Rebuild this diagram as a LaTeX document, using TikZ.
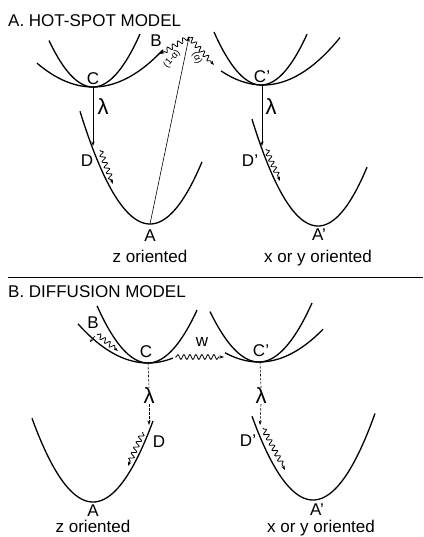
\documentclass[tikz,border=0pt]{standalone}
\usepackage{fontspec}
\setmainfont{Liberation Sans}
\usetikzlibrary{arrows.meta,decorations.pathmorphing}
\tikzset{
  curve/.style={line width=1.3pt},
  thinline/.style={line width=0.6pt},
  tip/.style={-{Stealth[length=4.5pt,width=3.2pt]}},
  wavy/.style={line width=0.8pt, tip, decorate, decoration={snake, amplitude=2.4pt, segment length=6pt, pre length=1pt, post length=4pt}},
  dashy/.style={thinline, dash pattern=on 2.5pt off 1.5pt},
  lbl/.style={font=\fontsize{17}{18}\selectfont, inner sep=0pt},
  lam/.style={font=\fontsize{22}{24}\selectfont, inner sep=0pt},
  small/.style={font=\fontsize{9.5}{10}\selectfont, inner sep=0pt},
}
\begin{document}
\begin{tikzpicture}[x=1pt,y=-1pt]
\useasboundingbox (0,0) rectangle (423,537);

% ---------------- Panel A ----------------
\node[lbl, anchor=base west] (titleA) at (8,27) {A. HOT-SPOT MODEL};

% upper left pair
\draw[curve] plot[domain=49:140, samples=50] (\x, {87-0.024*(\x-93)^2});
\draw[curve] plot[domain=37:163, samples=50] (\x, {87-0.0076*(\x-93)^2});
\coordinate (Cv) at (93,87);
\node[lbl] (Cl) at (93,79) {C};
% lower left
\draw[curve] plot[domain=80:202, samples=60] (\x, {224-0.023*(\x-150)^2});
\coordinate (Dv) at (93,146);
\coordinate (Av) at (150,224);
\node[lbl] (Dl) at (87,161) {D};
\node[lbl] (Al) at (150,236) {A};
\node[lbl, anchor=base] (zA) at (150,262) {z oriented};
\draw[thinline, tip] (Cv) -- (Dv);
\node[lam] (lamA) at (103,107) {λ};
\coordinate (Dw1) at (100,150);
\coordinate (Dw2) at (113,184);
\draw[wavy] (Dw1) -- (Dw2);

% hot spot
\coordinate (P) at (189,37);
\coordinate (Bt) at (160,54);
\coordinate (Rt) at (214,65);
\draw[thinline, tip] (Av) -- (P);
\draw[wavy] (P) -- (Bt);
\draw[wavy] (P) -- (Rt);
\node[lbl] (Bl) at (156,41) {B};
\node[small, rotate=50] (oma) at (172,59) {(1-α)};
\node[small, rotate=-65] (alp) at (197,58) {(α)};

% upper right pair
\draw[curve] plot[domain=214:307, samples=50] (\x, {85-0.024*(\x-261)^2});
\draw[curve] plot[domain=221:340, samples=50] (\x, {85-0.008*(\x-263)^2});
\coordinate (Cpv) at (262,85);
\node[lbl] (Cpl) at (262,77) {C'};
% lower right
\draw[curve] plot[domain=252:367, samples=60] (\x, {226-0.0245*(\x-318)^2});
\coordinate (Dpv) at (262,146);
\node[lbl] (Dpl) at (250,161) {D'};
\node[lbl] (Apl) at (319,235) {A'};
\node[lbl, anchor=base] (xyA) at (318,262) {x or y oriented};
\draw[thinline, tip] (Cpv) -- (Dpv);
\node[lam] (lamAp) at (271,107) {λ};
\coordinate (Dpw1) at (266,149);
\coordinate (Dpw2) at (280,181);
\draw[wavy] (Dpw1) -- (Dpw2);

% separator
\coordinate (S1) at (8,277);
\coordinate (S2) at (423,277);
\draw[line width=0.9pt] (S1) -- (S2);

% ---------------- Panel B ----------------
\node[lbl, anchor=base west] (titleB) at (8,297) {B. DIFFUSION MODEL};

% upper left pair
\draw[curve] plot[domain=97:197, samples=50] (\x, {363-0.022*(\x-148)^2});
\draw[curve] plot[domain=78:173, samples=50] (\x, {363-0.008*(\x-148)^2});
\coordinate (CBv) at (148,363);
\node[lbl] (CBl) at (146,352) {C};
\node[lbl] (BBl) at (93,323) {B};
\coordinate (Bw1) at (97,334);
\coordinate (Bw2) at (118,351);
\draw[wavy] (Bw1) -- (Bw2);
\coordinate (Bs1) at (95,336);
\coordinate (Bs2) at (90,342);
\draw[thinline, -{Stealth[length=3pt,width=2.5pt]}] (Bs1) -- (Bs2);
% w transfer
\coordinate (W1) at (175,357);
\coordinate (W2) at (224,357);
\draw[wavy] (W1) -- (W2);
\node[lbl] (wl) at (202,342) {w};
% lambda dashed
\node[lam] (lamB) at (149,396) {λ};
\coordinate (DBv) at (149,425);
\draw[dashy] (CBv) -- (lamB.north);
\draw[dashy, tip] (lamB.south) -- (DBv);

% lower left
\draw[curve] plot[domain=32:153, samples=60] (\x, {502-0.0225*(\x-93)^2});
\node[lbl] (DBl) at (159,442) {D};
\coordinate (DBw1) at (143,432);
\coordinate (DBw2) at (128,466);
\draw[wavy] (DBw1) -- (DBw2);
\node[lbl] (ABl) at (93,511) {A};
\node[lbl, anchor=base] (zB) at (93,532) {z oriented};

% upper right pair
\draw[curve] plot[domain=210:312, samples=50] (\x, {362-0.021*(\x-259)^2});
\draw[curve] plot[domain=225:323, samples=50] (\x, {362-0.008*(\x-259)^2});
\coordinate (CpBv) at (260,362);
\node[lbl] (CpBl) at (261,351) {C'};
\node[lam] (lamBp) at (261,396) {λ};
\coordinate (DpBv) at (260,425);
\draw[dashy] (CpBv) -- (lamBp.north);
\draw[dashy, tip] (lamBp.south) -- (DpBv);

% lower right
\draw[curve] plot[domain=252:375, samples=60] (\x, {500-0.0225*(\x-313)^2});
\node[lbl] (DpBl) at (248,441) {D'};
\coordinate (DpBw1) at (263,428);
\coordinate (DpBw2) at (285,470);
\draw[wavy] (DpBw1) -- (DpBw2);
\node[lbl] (ApBl) at (317,510) {A'};
\node[lbl, anchor=base] (xyB) at (321,532) {x or y oriented};
\end{tikzpicture}
\end{document}
